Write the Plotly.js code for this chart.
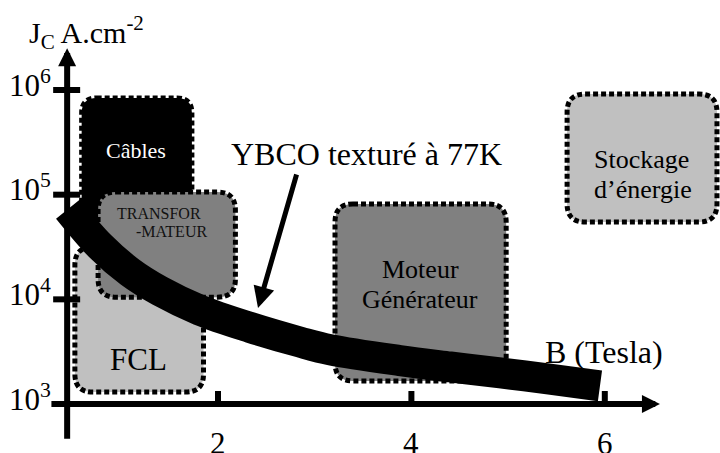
<!DOCTYPE html>
<html>
<head>
<meta charset="utf-8">
<script src="https://cdn.plot.ly/plotly-3.0.1.min.js"></script>
<style>
  body { margin: 0; background: #fff; }
  #chart { width: 720px; height: 453px; }
</style>
</head>
<body>
<div id="chart"></div>
<script>
// courbe YBCO texturé à 77K : B (T) et Jc (A/cm2)
var fieldB = [0.45, 0.78, 1.09, 1.4, 1.81, 2.33, 2.85, 3.16, 3.88, 4.4, 4.92, 5.43, 5.95];
var jcYBCO = [73000, 32300, 18200, 12000, 7900, 5400, 3900, 3300, 2600, 2260, 1980, 1730, 1490];

// zones d'application (B min/max, Jc min/max)
var zoneNames = ['Câbles', 'FCL', 'TRANSFOR', 'Moteur', 'Stockage'];
var zoneB0 = [0.59, 0.52, 0.76, 3.21, 5.61];
var zoneB1 = [1.73, 1.85, 2.18, 4.98, 7.16];
var zoneJ0 = [40000, 1300, 10500, 1660, 54800];
var zoneJ1 = [840000, 31600, 106000, 81500, 915000];

var xTicks = [2, 4, 6];
var yTicks = [1e3, 1e4, 1e5, 1e6];
var yTickText = ['10<sup>3</sup>', '10<sup>4</sup>', '10<sup>5</sup>', '10<sup>6</sup>'];

var xRange = [-0.2544, 7.1913];
var yRange = [2.532, 6.860];
var axisX = 0.44;
var pxPerX = 720 / (xRange[1] - xRange[0]);
var pxPerDec = 453 / (yRange[1] - yRange[0]);

var serif = 'Liberation Serif, Times New Roman, serif';
var fills = {'Câbles': '#000000', 'FCL': '#c0c0c0', 'TRANSFOR': '#808080', 'Moteur': '#808080', 'Stockage': '#c0c0c0'};

function roundedBox(i, r) {
  var x0 = zoneB0[i], x1 = zoneB1[i];
  var l0 = Math.log10(zoneJ0[i]), l1 = Math.log10(zoneJ1[i]);
  var rx = r / pxPerX, ry = r / pxPerDec;
  function p(x, l) { return x.toFixed(4) + ',' + Math.pow(10, l).toFixed(2); }
  return 'M' + p(x0 + rx, l1) + ' L' + p(x1 - rx, l1) +
    ' Q' + p(x1, l1) + ' ' + p(x1, l1 - ry) +
    ' L' + p(x1, l0 + ry) +
    ' Q' + p(x1, l0) + ' ' + p(x1 - rx, l0) +
    ' L' + p(x0 + rx, l0) +
    ' Q' + p(x0, l0) + ' ' + p(x0, l0 + ry) +
    ' L' + p(x0, l1 - ry) +
    ' Q' + p(x0, l1) + ' ' + p(x0 + rx, l1) + ' Z';
}

var shapes = [];
zoneNames.forEach(function (name, i) {
  shapes.push({
    type: 'path', xref: 'x', yref: 'y', layer: 'below',
    path: roundedBox(i, name === 'Câbles' ? 15 : 18),
    fillcolor: fills[name],
    line: {color: '#000', width: 5, dash: '5px,3px'}
  });
});
// graduations
yTicks.forEach(function (v) {
  shapes.push({
    type: 'line', xref: 'x', yref: 'y', layer: 'above',
    xsizemode: 'pixel', xanchor: axisX, x0: -14, x1: 13,
    y0: v, y1: v,
    line: {color: '#000', width: 6}
  });
});
xTicks.forEach(function (v) {
  shapes.push({
    type: 'line', xref: 'x', yref: 'y', layer: 'above',
    ysizemode: 'pixel', yanchor: 1000, y0: -13, y1: 13,
    x0: v, x1: v,
    line: {color: '#000', width: 6}
  });
});

function txt(text, px, py, size, color, extra) {
  var a = {
    text: text, xref: 'paper', yref: 'paper',
    x: px / 720, y: 1 - py / 453,
    xanchor: 'center', yanchor: 'middle', showarrow: false,
    font: {family: serif, size: size, color: color || '#000'}
  };
  for (var k in extra) a[k] = extra[k];
  return a;
}

var annotations = [
  // axes fléchés
  {x: axisX, y: Math.log10(2.5e6), xref: 'x', yref: 'y', text: '', showarrow: true,
   ax: 0, ay: 392, arrowhead: 2, arrowsize: 0.6, arrowwidth: 6, arrowcolor: '#000'},
  {x: 6.57, y: 3, xref: 'x', yref: 'y', text: '', showarrow: true,
   ax: -610, ay: 0, arrowhead: 2, arrowsize: 0.6, arrowwidth: 6, arrowcolor: '#000'},
  // flèche YBCO
  {x: 258 / 720, y: 1 - 308 / 453, xref: 'paper', yref: 'paper', text: '', showarrow: true,
   ax: 39, ay: -135, arrowhead: 2, arrowsize: 0.85, arrowwidth: 5, arrowcolor: '#000'},
  txt('J<sub>C</sub> A.cm<sup>-2</sup>', 27, 32, 30, '#000', {xanchor: 'left'}),
  txt('YBCO texturé à 77K', 366, 154, 32),
  txt('Câbles', 136, 150.5, 22, '#fff'),
  txt('TRANSFOR', 159, 213.6, 16, '#111'),
  txt('-MATEUR', 171, 231.6, 16, '#111'),
  txt('FCL', 138, 359.5, 31),
  txt('Moteur', 420, 269.2, 26),
  txt('Générateur', 420, 299.2, 26),
  txt('Stockage', 641, 159.2, 26),
  txt('d’énergie', 643, 189.2, 26),
  txt('B (Tesla)', 604, 352, 32)
];
yTicks.forEach(function (v, i) {
  annotations.push({
    text: yTickText[i], xref: 'x', yref: 'y', x: axisX, y: Math.log10(v),
    xanchor: 'right', yanchor: 'middle', xshift: -14, yshift: 7,
    showarrow: false, font: {family: serif, size: 31, color: '#000'}
  });
});
xTicks.forEach(function (v) {
  annotations.push({
    text: String(v), xref: 'x', yref: 'y', x: v, y: 3,
    xanchor: 'center', yanchor: 'middle', yshift: -39.5,
    showarrow: false, font: {family: serif, size: 31, color: '#000'}
  });
});

var band = {
  x: fieldB, y: jcYBCO, type: 'scatter', mode: 'lines',
  line: {color: '#000', width: 31, shape: 'spline', smoothing: 1},
  hoverinfo: 'skip'
};

var layout = {
  width: 720, height: 453,
  margin: {l: 0, r: 0, t: 0, b: 0},
  paper_bgcolor: '#fff', plot_bgcolor: '#fff',
  showlegend: false,
  xaxis: {range: xRange, showgrid: false, zeroline: false, showticklabels: false, showline: false, ticks: ''},
  yaxis: {type: 'log', range: yRange, showgrid: false, zeroline: false, showticklabels: false, showline: false, ticks: ''},
  shapes: shapes,
  annotations: annotations
};

Plotly.newPlot('chart', [band], layout, {displayModeBar: false, staticPlot: true});
</script>
</body>
</html>
